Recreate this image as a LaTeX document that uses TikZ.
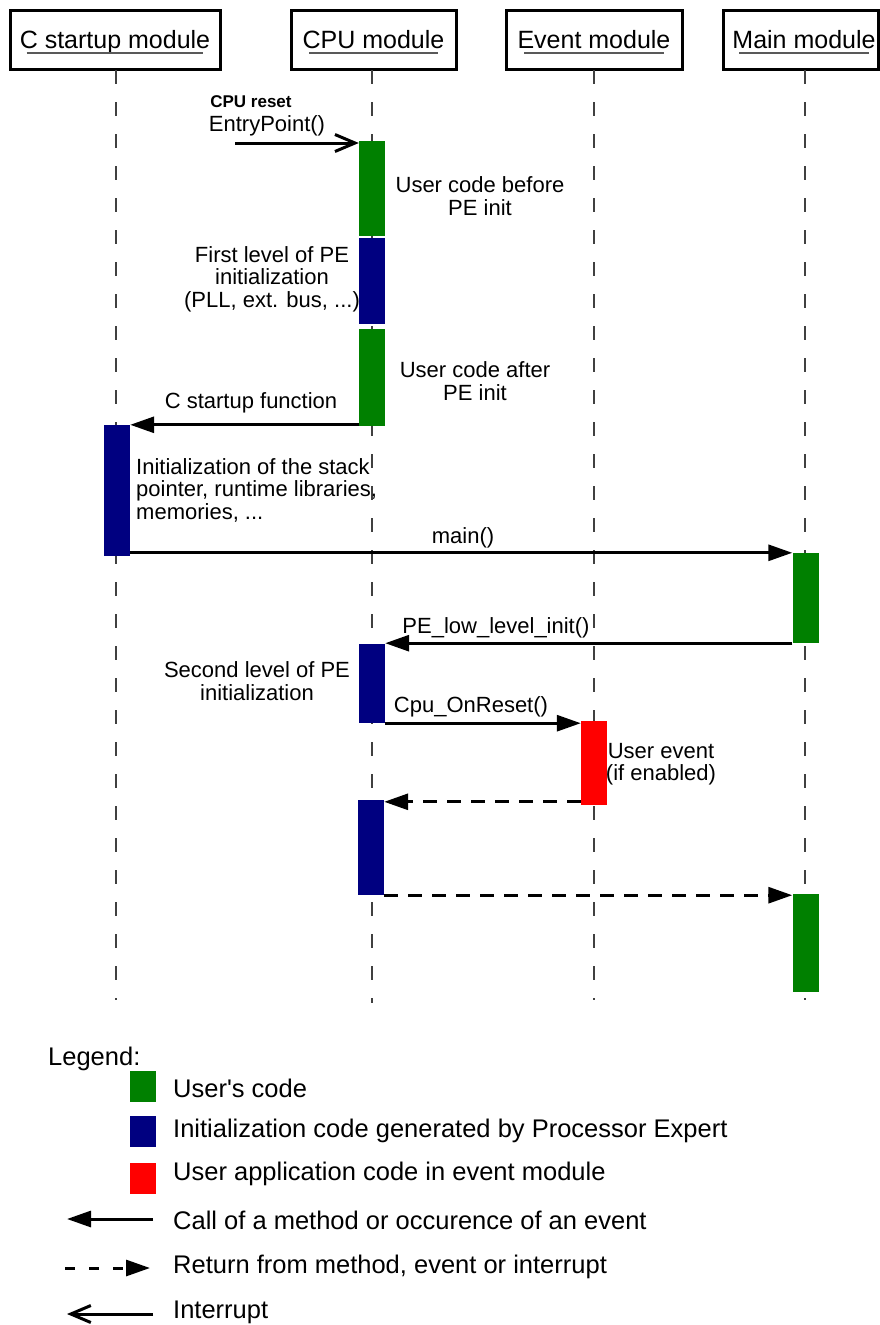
\documentclass[tikz,border=0pt]{standalone}
\usepackage{fontspec}
\setmainfont{Liberation Sans}
\usetikzlibrary{arrows.meta,calc}
\definecolor{ugreen}{RGB}{0,128,0}
\definecolor{pblue}{RGB}{0,0,128}
\definecolor{ered}{RGB}{255,0,0}
\begin{document}
\begin{tikzpicture}[x=1pt,y=-1pt,
  hdr/.style={draw, line width=3pt, inner sep=0, minimum height=59pt},
  htxt/.style={font=\fontsize{25}{28}\selectfont, inner sep=0, anchor=base},
  uline/.style={draw=black!65, line width=2pt},
  life/.style={draw=black!75, line width=1.6pt, dash pattern=on 14pt off 18pt},
  bar/.style={inner sep=0, minimum width=26pt, draw=none},
  call/.style={line width=3pt, -{Triangle[length=24pt,width=16pt]}},
  ret/.style={line width=3pt, dash pattern=on 14pt off 10pt, -{Triangle[length=24pt,width=16pt]}},
  intr/.style={line width=3pt, -{Straight Barb[length=20pt,width=17pt]}},
  lbl/.style={font=\fontsize{22}{22.5}\selectfont, inner sep=0, align=center},
  leg/.style={font=\fontsize{25.5}{28}\selectfont, inner sep=0, anchor=base west},
  legbox/.style={inner sep=0, minimum width=26pt, minimum height=31pt}
]
\useasboundingbox (0,0) rectangle (879,1325);

% headers
\node[hdr, minimum width=210pt] (hC) at (115,39.5) {};
\node[htxt] (tC) at (115,48) {C startup module};
\node[hdr, minimum width=165pt] (hP) at (373.5,39.5) {};
\node[htxt] (tP) at (373.5,48) {CPU module};
\node[hdr, minimum width=176pt] (hE) at (594,39.5) {};
\node[htxt] (tE) at (594,48) {Event module};
\node[hdr, minimum width=155pt] (hM) at (800.5,39.5) {};
\node[htxt] (tM) at (804,48) {Main module};
\foreach \t in {tC,tP,tE,tM}
  \draw[uline] ([shift={(7pt,-5pt)}]\t.base west) -- ([shift={(-7pt,-5pt)}]\t.base east);

% lifelines
\coordinate (lC1) at (116,70); \coordinate (lC2) at (116,1000);
\coordinate (lP1) at (372,70); \coordinate (lP2) at (372,1003);
\coordinate (lE1) at (594,70); \coordinate (lE2) at (594,1000);
\coordinate (lM1) at (805,70); \coordinate (lM2) at (805,1000);
\draw[life] (lC1) -- (lC2);
\draw[life] (lP1) -- (lP2);
\draw[life] (lE1) -- (lE2);
\draw[life] (lM1) -- (lM2);

% activation bars
\node[bar, fill=ugreen, minimum height=95pt] (g1) at (372,188.5) {};
\node[bar, fill=pblue, minimum height=86pt] (b1) at (372,281) {};
\node[bar, fill=ugreen, minimum height=97pt] (g2) at (372,377.5) {};
\node[bar, fill=pblue, minimum height=131pt] (bC) at (117,490.5) {};
\node[bar, fill=ugreen, minimum height=90pt] (gM1) at (805.5,598) {};
\node[bar, fill=pblue, minimum height=79pt] (b2) at (372,683.5) {};
\node[bar, fill=ered, minimum height=84pt] (r1) at (594,763) {};
\node[bar, fill=pblue, minimum height=95pt] (b3) at (371,847.5) {};
\node[bar, fill=ugreen, minimum height=98pt] (gM2) at (805.5,943) {};

% messages
\coordinate (ep) at (235,143);
\draw[intr] (ep) -- (ep -| g1.west);
\draw[call] (g2.west |- bC.north) -- (bC.north east);
\draw[call] (bC.east |- gM1.north) -- (gM1.north west);
\draw[call] (gM1.south west) -- (gM1.south west -| b2.east);
\draw[call] (b2.south east) -- (b2.south east -| r1.west);
\coordinate (rA) at ([yshift=-2pt]b3.north east);
\draw[ret] (rA -| r1.west) -- (rA);
\draw[ret] (b3.south east) -- (b3.south east -| gM2.west);

% labels
\node[lbl, font=\bfseries\fontsize{17}{20}\selectfont, anchor=base] (tRes) at (251,107) {CPU reset};
\node[lbl, anchor=base] (tEP) at (267,131) {EntryPoint()};
\node[lbl] (tUB) at (480,196) {User code before\\PE init};
\node[lbl] (tFL) at (272,279) {First level of PE\\initialization\\(PLL, ext. bus, ...)};
\node[lbl] (tUA) at (475,381) {User code after\\PE init};
\node[lbl, anchor=base] (tCS) at (251,408) {C startup function};
\node[lbl, align=left, anchor=west] (tIS) at (136,490) {Initialization of the stack\\pointer, runtime libraries,\\memories, ...};
\node[lbl, anchor=base] (tMain) at (463,543) {main()};
\node[lbl, anchor=base] (tPE) at (496,633) {PE\_low\_level\_init()};
\node[lbl] (tSL) at (257,681) {Second level of PE\\initialization};
\node[lbl, anchor=base] (tCO) at (471,712) {Cpu\_OnReset()};
\node[lbl] (tUE) at (661,764) {User event\\(if enabled)};

% legend
\node[leg] (tLeg) at (48,1065) {Legend:};
\node[legbox, fill=ugreen] (kG) at (142.5,1086.5) {};
\node[legbox, fill=pblue] (kB) at (142.5,1131) {};
\node[legbox, fill=ered] (kR) at (142.5,1178) {};
\node[leg] (tkG) at (173,1097) {User\textquotesingle s code};
\node[leg] (tkB) at (173,1137) {Initialization code generated by Processor Expert};
\node[leg] (tkR) at (173,1180) {User application code in event module};
\coordinate (a1s) at (153,1219); \coordinate (a1e) at (67,1219);
\draw[call] (a1s) -- (a1e);
\node[leg] (tA1) at (173,1229) {Call of a method or occurence of an event};
\coordinate (a2s) at (65,1268); \coordinate (a2e) at (150,1268);
\draw[ret, dash pattern=on 10pt off 14pt] (a2s) -- (a2e);
\node[leg] (tA2) at (173,1273) {Return from method, event or interrupt};
\coordinate (a3s) at (153,1314); \coordinate (a3e) at (67,1314);
\draw[intr] (a3s) -- (a3e);
\node[leg] (tA3) at (173,1318) {Interrupt};
\end{tikzpicture}
\end{document}
